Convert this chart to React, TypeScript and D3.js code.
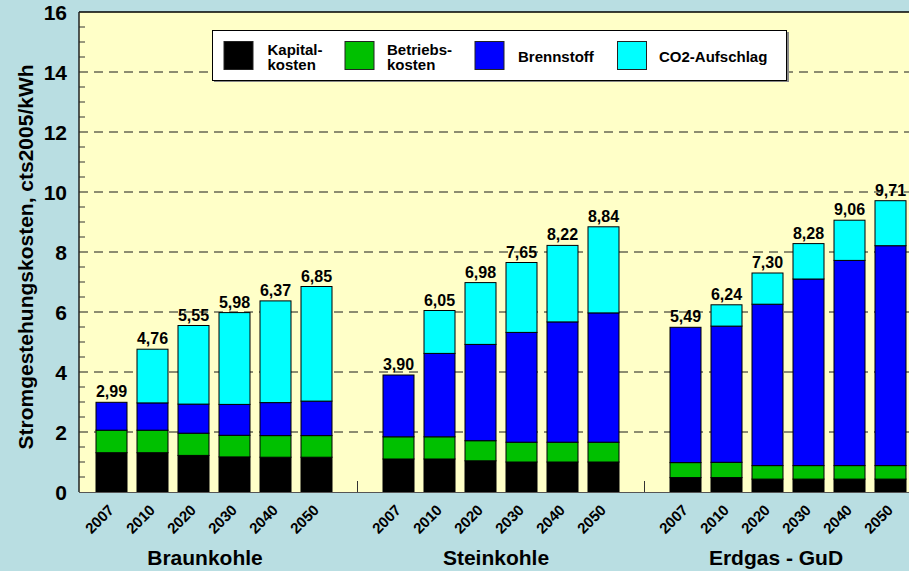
import React from "react";
import * as d3 from "d3";

const groups = ["Braunkohle", "Steinkohle", "Erdgas - GuD"];
const years = ["2007", "2010", "2020", "2030", "2040", "2050"];
const seriesNames = ["Kapital-\nkosten", "Betriebs-\nkosten", "Brennstoff", "CO2-Aufschlag"];
const seriesColors = ["#000000", "#00C000", "#0000FF", "#00FFFF"];

// values per bar, order: Braunkohle 2007..2050, Steinkohle 2007..2050, Erdgas 2007..2050
const kapital = [1.31, 1.31, 1.22, 1.17, 1.16, 1.16, 1.1, 1.1, 1.04, 1.0, 1.0, 1.0, 0.48, 0.48, 0.43, 0.43, 0.43, 0.43];
const betrieb = [0.75, 0.75, 0.74, 0.72, 0.72, 0.72, 0.74, 0.74, 0.67, 0.66, 0.66, 0.66, 0.5, 0.51, 0.45, 0.45, 0.45, 0.45];
const brennstoff = [0.93, 0.91, 0.97, 1.03, 1.1, 1.15, 2.06, 2.78, 3.21, 3.66, 4.01, 4.31, 4.51, 4.54, 5.38, 6.22, 6.84, 7.33];
const co2 = [0, 1.79, 2.62, 3.06, 3.39, 3.82, 0, 1.43, 2.06, 2.33, 2.55, 2.87, 0, 0.71, 1.04, 1.18, 1.34, 1.5];
const totals = [2.99, 4.76, 5.55, 5.98, 6.37, 6.85, 3.9, 6.05, 6.98, 7.65, 8.22, 8.84, 5.49, 6.24, 7.3, 8.28, 9.06, 9.71];
const yTicks = [0, 2, 4, 6, 8, 10, 12, 14, 16];
const groupLabelOffsets = [-9, -5, -12];

const W = 909;
const H = 571;
const plotLeft = 79;
const plotTop = 12;
const plotBottom = 492;
const plotRight = 909;

export default function App() {
  const nSlots = groups.length * years.length + (groups.length - 1);
  const slotIds = d3.range(nSlots).map(String);
  const x = d3
    .scaleBand<string>()
    .domain(slotIds)
    .range([91, 91 + nSlots * 41])
    .paddingInner(10 / 41)
    .paddingOuter(5 / 41);
  const y = d3.scaleLinear().domain([0, 16]).range([plotBottom, plotTop]);

  const rows = totals.map((t, i) => {
    const g = Math.floor(i / years.length);
    const slot = i + g;
    return {
      slot: String(slot),
      group: groups[g],
      year: years[i % years.length],
      total: t,
      s0: kapital[i],
      s1: betrieb[i],
      s2: brennstoff[i],
      s3: co2[i],
    };
  });
  const stacked = d3.stack<any>().keys(["s0", "s1", "s2", "s3"])(rows);
  const bw = x.bandwidth();
  const fmt = (v: number) => d3.format(".2f")(v).replace(".", ",");

  const minor = d3.range(0, 16.01, 0.5).filter((v) => v % 2 !== 0);
  const gapSlots = d3.range(1, groups.length).map((g) => String(g * (years.length + 1) - 1));

  const legendItems = [
    { x: 224, tx: 267.5 },
    { x: 345, tx: 387 },
    { x: 475, tx: 518 },
    { x: 617.5, tx: 659 },
  ];

  const font = "'Liberation Sans', Arial, Helvetica, sans-serif";

  return (
    <svg
      width={W}
      height={H}
      style={{ position: "absolute", left: 0, top: 0, display: "block" }}
      fontFamily={font}
      fontWeight="bold"
    >
      <rect x={0} y={0} width={W} height={H} fill="#B9DEE2" />
      <rect x={plotLeft} y={plotTop} width={plotRight - plotLeft} height={plotBottom - plotTop} fill="#FFFFC8" />

      {/* grid lines */}
      {yTicks
        .filter((v) => v > 0 && v < 16)
        .map((v) => (
          <line
            key={"g" + v}
            x1={plotLeft}
            x2={plotRight}
            y1={y(v)}
            y2={y(v)}
            stroke="#1a1a1a"
            strokeWidth={1}
            strokeDasharray="9,6"
          />
        ))}

      {/* minor ticks */}
      {minor.map((v) => (
        <line key={"m" + v} x1={plotLeft} x2={plotLeft + 6} y1={y(v)} y2={y(v)} stroke="#333" strokeWidth={1} />
      ))}

      {/* gap ticks */}
      {gapSlots.map((s) => (
        <line
          key={"gt" + s}
          x1={(x(s) as number) + bw / 2}
          x2={(x(s) as number) + bw / 2}
          y1={plotBottom}
          y2={plotBottom - 11}
          stroke="#333"
          strokeWidth={1}
        />
      ))}

      {/* bars */}
      {stacked.map((layer, li) =>
        layer.map((d: any, i: number) => {
          const h = y(d[0]) - y(d[1]);
          if (h <= 0.01) return null;
          return (
            <rect
              key={li + "-" + i}
              x={x(d.data.slot)}
              y={y(d[1])}
              width={bw}
              height={h}
              fill={seriesColors[li]}
              stroke="#000"
              strokeWidth={1}
            />
          );
        })
      )}

      {/* value labels */}
      {rows.map((r, i) => (
        <text
          key={"v" + i}
          x={(x(r.slot) as number) + bw / 2}
          y={y(r.total) - 5}
          textAnchor="middle"
          fontSize={16}
          fill="#000"
        >
          {fmt(r.total)}
        </text>
      ))}

      {/* axes lines */}
      <line x1={plotLeft} x2={plotRight} y1={plotTop} y2={plotTop} stroke="#000" strokeWidth={1.5} />
      <line x1={plotLeft} x2={plotLeft} y1={plotTop} y2={plotBottom} stroke="#222" strokeWidth={1.5} />
      <line x1={plotLeft} x2={plotRight} y1={plotBottom + 0.5} y2={plotBottom + 0.5} stroke="#555" strokeWidth={1} />

      {/* y tick labels */}
      {yTicks.map((v) => (
        <text key={"yl" + v} x={67} y={y(v) + 8} textAnchor="end" fontSize={21} fill="#000">
          {v}
        </text>
      ))}

      {/* y title */}
      <text
        transform={`translate(33,${257}) rotate(-90)`}
        textAnchor="middle"
        fontSize={21}
        fill="#000"
      >
        Stromgestehungskosten, cts2005/kWh
      </text>

      {/* year labels */}
      {rows.map((r, i) => {
        const cx = (x(r.slot) as number) + bw / 2 + 3.5;
        return (
          <text
            key={"yr" + i}
            transform={`translate(${cx},${511}) rotate(-45)`}
            textAnchor="end"
            fontSize={15}
            fill="#000"
          >
            {r.year}
          </text>
        );
      })}

      {/* group labels */}
      {groups.map((g, gi) => {
        const first = String(gi * (years.length + 1));
        const last = String(gi * (years.length + 1) + years.length - 1);
        const cx = ((x(first) as number) + (x(last) as number) + bw) / 2 + groupLabelOffsets[gi];
        return (
          <text key={"gl" + g} x={cx} y={565} textAnchor="middle" fontSize={21} fill="#000">
            {g}
          </text>
        );
      })}

      {/* legend */}
      <g>
        <rect x={214} y={32} width={575} height={50} fill="#888" />
        <rect x={212.5} y={30.5} width={574} height={50} fill="#fff" stroke="#000" strokeWidth={1} />
        {seriesNames.map((name, i) => {
          const it = legendItems[i];
          const lines = name.split("\n");
          return (
            <g key={"lg" + i}>
              <rect x={it.x} y={41.5} width={29} height={28} fill={seriesColors[i]} stroke="#222" strokeWidth={1} />
              {lines.length === 2 ? (
                <>
                  <text x={it.tx} y={54.5} fontSize={15} fill="#000">
                    {lines[0]}
                  </text>
                  <text x={it.tx} y={70} fontSize={15} fill="#000">
                    {lines[1]}
                  </text>
                </>
              ) : (
                <text x={it.tx} y={61.5} fontSize={15} fill="#000">
                  {lines[0]}
                </text>
              )}
            </g>
          );
        })}
      </g>
    </svg>
  );
}
